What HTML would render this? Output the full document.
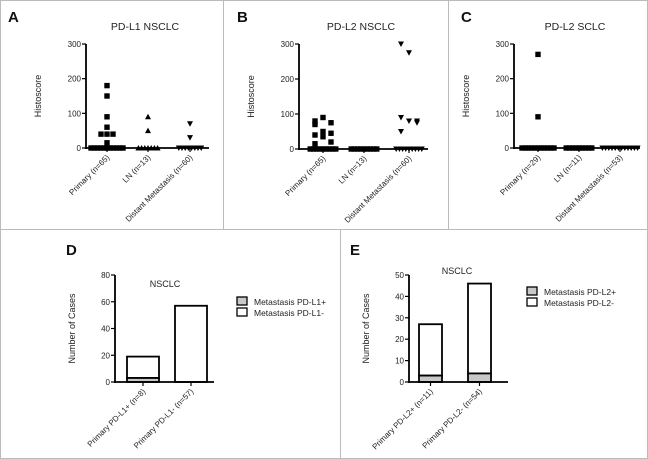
<!DOCTYPE html>
<html><head><meta charset="utf-8"><style>
body{margin:0;background:#fff}
svg{display:block;font-family:"Liberation Sans",sans-serif}
</style></head><body>
<svg id="fig" width="648" height="459" viewBox="0 0 648 459">
<rect x="0.5" y="0.5" width="647" height="458" fill="#fff" stroke="#bbb"/>
<line x1="0" y1="229.5" x2="648" y2="229.5" stroke="#bbb"/>
<line x1="223.5" y1="0" x2="223.5" y2="229" stroke="#bbb"/>
<line x1="448.5" y1="0" x2="448.5" y2="229" stroke="#bbb"/>
<line x1="340.5" y1="229" x2="340.5" y2="459" stroke="#bbb"/>
</svg>
<script>
const scatterCats = ["Primary (n=65)","LN (n=13)","Distant Metastasis (n=60)"];
const scatterCatsB = ["Primary (n=65)","LN (n=13)","Distant Metastasis (n=60)"];
const scatterCatsC = ["Primary (n=29)","LN (n=11)","Distant Metastasis (n=53)"];
const yTicksScatter = [0,100,200,300];
const aPrimary = [180,150,90,60,40,40,40,15,0,0,0,0,0,0,0,0,0,0,0];
const aLN = [90,50,0,0,0,0,0,0,0];
const aMet = [70,30,0,0,0,0,0,0,0,0];
const bPrimary = [80,90,75,70,50,45,40,35,20,15,0,0,0,0,0,0,0,0,0];
const bLN = [0,0,0,0,0,0,0,0,0];
const bMet = [300,275,80,90,80,75,50,0,0,0,0,0,0,0,0,0];
const cPrimary = [270,90,0,0,0,0,0,0,0,0,0,0,0];
const cLN = [0,0,0,0,0,0,0,0,0];
const cMet = [0,0,0,0,0,0,0,0,0,0,0,0];
const dCats = ["Primary PD-L1+ (n=8)","Primary PD-L1- (n=57)"];
const dPos = [3,0];
const dNeg = [16,57];
const dTicks = [0,20,40,60,80];
const eCats = ["Primary PD-L2+ (n=11)","Primary PD-L2- (n=54)"];
const ePos = [3,4];
const eNeg = [24,42];
const eTicks = [0,10,20,30,40,50];

const svg=document.getElementById('fig');
const NS='http://www.w3.org/2000/svg';
function mk(tag,attrs,parent){const e=document.createElementNS(NS,tag);for(const k in attrs)e.setAttribute(k,attrs[k]);(parent||svg).appendChild(e);return e;}
function txt(x,y,s,size,extra,parent){const t=mk('text',Object.assign({x:x,y:y,'font-size':size,fill:'#222'},extra||{}),parent);t.textContent=s;return t;}

function scatterPanel(name,letter,lx,axX,zeroY,topY,axEnd,catX,title,titleX,cats,groups,markers,jitter){
  const g=mk('g',{});
  
  
  const y=v=>zeroY-(v/300)*(zeroY-topY);
  const L=txt(lx,22,letter,15,{'font-weight':'bold',fill:'#111'},g);
  
  
  const T=txt(titleX,30,title,10.5,{'text-anchor':'middle'},g);
  
  
  const yl=txt(0,0,'Histoscore',9,{'text-anchor':'middle',transform:`translate(${axX-45},${(zeroY+topY)/2}) rotate(-90)`},g);
  
  
  const ya=mk('line',{x1:axX,y1:topY,x2:axX,y2:zeroY+1,stroke:'#000','stroke-width':1.8},g);
  
  
  const xa=mk('line',{x1:axX,y1:zeroY,x2:axEnd,y2:zeroY,stroke:'#000','stroke-width':1.8},g);
  
  
  yTicksScatter.forEach(v=>{
    mk('line',{x1:axX-4,y1:y(v),x2:axX,y2:y(v),stroke:'#000','stroke-width':1.2},g);
    const t=txt(axX-5,y(v)+3,String(v),8,{'text-anchor':'end'},g);
    
    
  });
  cats.forEach((c,i)=>{
    const cx=catX[i];
    mk('line',{x1:cx,y1:zeroY,x2:cx,y2:zeroY+4,stroke:'#000','stroke-width':1.2},g);
    const t=txt(0,0,c,8,{'text-anchor':'end',transform:`translate(${cx+3},${zeroY+10}) rotate(-45)`},g);
    
    
    const vals=groups[i];
    const counts={};
    vals.forEach(v=>{counts[v]=(counts[v]||0)+1;});
    const seen={};
    let nz=0;
    vals.forEach(v=>{
      const n=counts[v];const k=seen[v]=(seen[v]||0)+1;
      let px;
      if(v===0) px=cx+(k-(n+1)/2)*3.2;
      else if(jitter&&jitter[i]){px=cx+[-8,0,8][nz%3];nz++;}
      else px=cx+(k-(n+1)/2)*6;
      const py=y(v);
      let m;
      if(markers[i]==='s') m=mk('rect',{x:px-2.7,y:py-2.7,width:5.4,height:5.4,fill:'#000'},g);
      else if(markers[i]==='t') m=mk('polygon',{points:`${px},${py-3} ${px-3},${py+2.5} ${px+3},${py+2.5}`,fill:'#000'},g);
      else m=mk('polygon',{points:`${px-3},${py-2.5} ${px+3},${py-2.5} ${px},${py+3}`,fill:'#000'},g);
      
      
    });
  });
}
scatterPanel('panel-a-chart','A',8,86,148,44,209,[107,148,190],'PD-L1 NSCLC',145,scatterCats,[aPrimary,aLN,aMet],['s','t','v'],null);
scatterPanel('panel-b-chart','B',237,299,149,44,428,[323,364,409],'PD-L2 NSCLC',361,scatterCatsB,[bPrimary,bLN,bMet],['s','s','v'],[true,false,true]);
scatterPanel('panel-c-chart','C',461,514,148,44,640,[538,579,620],'PD-L2 SCLC',575,scatterCatsC,[cPrimary,cLN,cMet],['s','s','v'],null);

function barPanel(name,letter,lx,axX,zeroY,topY,max,ticks,axEnd,barX,barW,cats,pos,neg,title,titleX,titleY,legX,legY,legLabels){
  const g=mk('g',{});
  
  
  const y=v=>zeroY-(v/max)*(zeroY-topY);
  const L=txt(lx,255,letter,15,{'font-weight':'bold',fill:'#111'},g);
  
  
  const T=txt(titleX,titleY,title,9,{'text-anchor':'middle'},g);
  
  
  const yl=txt(0,0,'Number of Cases',9,{'text-anchor':'middle',transform:`translate(${axX-40},${(zeroY+topY)/2}) rotate(-90)`},g);
  
  
  cats.forEach((c,i)=>{
    const x0=barX[i];
    const tot=pos[i]+neg[i];
    const bn=mk('rect',{x:x0,y:y(tot),width:barW,height:y(pos[i])-y(tot),fill:'#fff',stroke:'#000','stroke-width':1.8},g);
    
    
    if(pos[i]>0){
      const bp=mk('rect',{x:x0,y:y(pos[i]),width:barW,height:zeroY-y(pos[i]),fill:'#c8c8c8',stroke:'#000','stroke-width':1.8},g);
      
      
    }
    const cx=x0+barW/2;
    mk('line',{x1:cx,y1:zeroY,x2:cx,y2:zeroY+4,stroke:'#000','stroke-width':1.2},g);
    const t=txt(0,0,c,8,{'text-anchor':'end',transform:`translate(${cx+3},${zeroY+10}) rotate(-45)`},g);
    
    
  });
  const ya=mk('line',{x1:axX,y1:topY,x2:axX,y2:zeroY+1,stroke:'#000','stroke-width':1.8},g);
  
  
  const xa=mk('line',{x1:axX,y1:zeroY,x2:axEnd,y2:zeroY,stroke:'#000','stroke-width':1.8},g);
  
  
  ticks.forEach(v=>{
    mk('line',{x1:axX-4,y1:y(v),x2:axX,y2:y(v),stroke:'#000','stroke-width':1.2},g);
    const t=txt(axX-5,y(v)+3,String(v),8,{'text-anchor':'end'},g);
    
    
  });
  legLabels.forEach((s,i)=>{
    const r=mk('rect',{x:legX,y:legY+i*11,width:10,height:8,fill:i===0?'#c8c8c8':'#fff',stroke:'#000','stroke-width':1.3},g);
    
    
    const t=txt(legX+17,legY+i*11+8,s,8.5,{},g);
    
    
  });
}
barPanel('panel-d-chart','D',66,115,382,275,80,dTicks,214,[127,175],32,dCats,dPos,dNeg,'NSCLC',165,287,237,297,['Metastasis PD-L1+','Metastasis PD-L1-']);
barPanel('panel-e-chart','E',350,409,382,275,50,eTicks,508,[419,468],23,eCats,ePos,eNeg,'NSCLC',457,274,527,287,['Metastasis PD-L2+','Metastasis PD-L2-']);
</script>
</body></html>
